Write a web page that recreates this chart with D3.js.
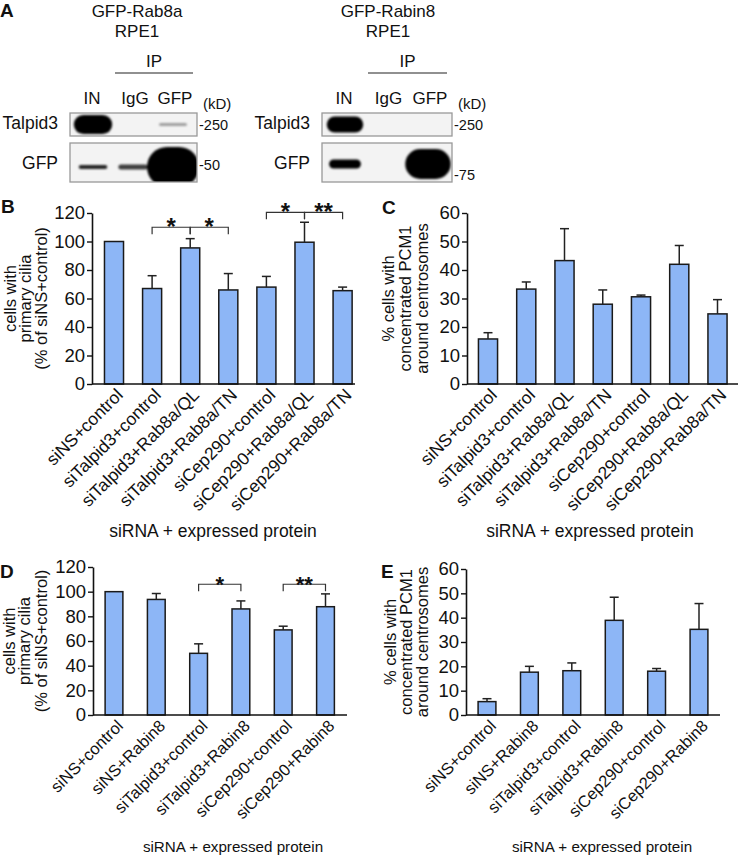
<!DOCTYPE html>
<html>
<head>
<meta charset="utf-8">
<script src="https://cdn.jsdelivr.net/npm/d3@7"></script>
<style>
body { margin: 0; background: #fff; }
svg { display: block; font-family: "Liberation Sans", Arial, Helvetica, sans-serif; }
</style>
</head>
<body>
<svg id="fig" width="740" height="857"></svg>
<script>
// ---- data ----
var lanes = ["IN", "IgG", "GFP"];

// blot signal (band thickness units) and darkness per lane
var rab8aTalpid3Signal = [9.5, 0, 1.5],
    rab8aTalpid3Dark = [1, 0, 0.35],
    rab8aGfpSignal = [2, 2.5, 20],
    rab8aGfpDark = [0.85, 0.75, 1];
var rabin8Talpid3Signal = [8, 0, 0],
    rabin8Talpid3Dark = [1, 0, 0],
    rabin8GfpSignal = [4.5, 0, 15],
    rabin8GfpDark = [1, 0, 1];

var rab8aCats = ["siNS+control", "siTalpid3+control", "siTalpid3+Rab8a/QL", "siTalpid3+Rab8a/TN",
                 "siCep290+control", "siCep290+Rab8a/QL", "siCep290+Rab8a/TN"];
var ciliaRab8aMean = [100, 67, 95.5, 66, 68, 99.5, 65.5],
    ciliaRab8aErr = [0, 9, 6.5, 11.5, 7.5, 14, 2.5];
var pcm1Rab8aMean = [15.8, 33.3, 43.3, 28, 30.6, 42, 24.6],
    pcm1Rab8aErr = [2.2, 2.5, 11.2, 5, 0.6, 6.6, 5];

var rabin8Cats = ["siNS+control", "siNS+Rabin8", "siTalpid3+control", "siTalpid3+Rabin8",
                  "siCep290+control", "siCep290+Rabin8"];
var ciliaRabin8Mean = [100, 93.7, 50, 86, 69, 87.8],
    ciliaRabin8Err = [0, 4.8, 7.7, 6.5, 3, 10.4];
var pcm1Rabin8Mean = [5.5, 17.6, 18.2, 38.9, 18, 35.2],
    pcm1Rabin8Err = [1.2, 2.4, 3.2, 9.5, 1.1, 10.6];

var ciliaRab8aSig = [
    { a: 1, b: 2, level: 110, label: "*" },
    { a: 2, b: 3, level: 110, label: "*" },
    { a: 4, b: 5, level: 120.5, label: "*" },
    { a: 5, b: 6, level: 120.5, label: "**" }];
var ciliaRabin8Sig = [
    { a: 2, b: 3, level: 106, label: "*" },
    { a: 4, b: 5, level: 106, label: "**" }];

var ciliaTitle = ["cells with", "primary cilia", "(% of siNS+control)"],
    pcm1Title = ["% cells with", "concentrated PCM1", "around centrosomes"];

// ---- drawing ----
var svg = d3.select("#fig");
var barFill = "#8db6f6",
    fontStack = '"Liberation Sans", Arial, Helvetica, sans-serif';

var defs = svg.append("defs");
defs.append("filter").attr("id", "soft")
    .attr("x", "-20%").attr("y", "-50%").attr("width", "140%").attr("height", "200%")
    .append("feGaussianBlur").attr("stdDeviation", 1.3);

function label(g, txt, x, y, size, anchor, weight) {
    return g.append("text")
        .attr("x", x)
        .attr("y", y)
        .attr("font-size", size)
        .attr("text-anchor", anchor || "start")
        .attr("font-weight", weight || "normal")
        .attr("fill", "#111")
        .text(txt);
}

function drawBlot(cfg) {
    let g = svg.append("g");
    let lx = d3.scalePoint().domain(lanes).range(cfg.laneRange);
    let bandH = d3.scaleLinear().domain([0, 20]).range([0, 40]);
    let bandW = d3.scaleLinear().domain([0, 20]).range([26, 52]);

    label(g, cfg.title, cfg.titleX, 17, 17, "middle");
    label(g, "RPE1", cfg.titleX, 37, 17, "middle");
    label(g, "IP", (cfg.ipLine[0] + cfg.ipLine[1]) / 2, 67, 17, "middle");
    g.append("line")
        .attr("x1", cfg.ipLine[0]).attr("x2", cfg.ipLine[1])
        .attr("y1", 73).attr("y2", 73)
        .attr("stroke", "#222").attr("stroke-width", 1.2);

    lanes.forEach(function(l) {
        label(g, l, lx(l) + (l == "IN" ? -1 : 2), 104, 17, "middle");
    });
    label(g, "(kD)", cfg.box[1] + 6, 109, 15);

    cfg.rows.forEach(function(row, i) {
        let clipId = cfg.id + "clip" + i;
        defs.append("clipPath").attr("id", clipId).append("rect")
            .attr("x", cfg.box[0]).attr("y", row.top)
            .attr("width", cfg.box[1] - cfg.box[0]).attr("height", row.bottom - row.top);

        g.append("rect")
            .attr("x", cfg.box[0]).attr("y", row.top)
            .attr("width", cfg.box[1] - cfg.box[0]).attr("height", row.bottom - row.top)
            .attr("fill", "#f3f3f3");

        let bands = lanes.map(function(l, j) {
            return { lane: l, s: row.signal[j], d: row.dark[j] };
        }).filter(function(b) { return b.s > 0; });

        g.append("g").attr("clip-path", "url(#" + clipId + ")")
            .append("g").attr("filter", "url(#soft)")
            .selectAll("rect")
            .data(bands)
            .enter().append("rect")
            .attr("x", function(b) { return lx(b.lane) - bandW(b.s) / 2; })
            .attr("y", function(b) { return row.center - bandH(b.s) / 2; })
            .attr("width", function(b) { return bandW(b.s); })
            .attr("height", function(b) { return bandH(b.s); })
            .attr("rx", function(b) { return Math.min(bandH(b.s), bandW(b.s)) / 2; })
            .attr("fill", "#000")
            .attr("fill-opacity", function(b) { return b.d; });

        g.append("rect")
            .attr("x", cfg.box[0]).attr("y", row.top)
            .attr("width", cfg.box[1] - cfg.box[0]).attr("height", row.bottom - row.top)
            .attr("fill", "none")
            .attr("stroke", "#999").attr("stroke-width", 1.3);

        label(g, row.name, cfg.box[0] - 12, row.labelY, 17.5, "end");
        label(g, "-" + row.marker, cfg.box[1] + 2, row.markerY, 14.5);
    });
}

drawBlot({
    id: "rab8a",
    title: "GFP-Rab8a",
    titleX: 137,
    ipLine: [115, 193],
    laneRange: [93, 173],
    box: [70, 197],
    rows: [
        { name: "Talpid3", top: 113, bottom: 136, center: 124.5, labelY: 129,
          signal: rab8aTalpid3Signal, dark: rab8aTalpid3Dark, marker: "250", markerY: 130 },
        { name: "GFP", top: 143, bottom: 182, center: 167, labelY: 169,
          signal: rab8aGfpSignal, dark: rab8aGfpDark, marker: "50", markerY: 170 }
    ]
});

drawBlot({
    id: "rabin8",
    title: "GFP-Rabin8",
    titleX: 388,
    ipLine: [368, 447],
    laneRange: [345, 428],
    box: [322, 452],
    rows: [
        { name: "Talpid3", top: 113, bottom: 136, center: 124.5, labelY: 129,
          signal: rabin8Talpid3Signal, dark: rabin8Talpid3Dark, marker: "250", markerY: 130 },
        { name: "GFP", top: 143, bottom: 182, center: 164, labelY: 169,
          signal: rabin8GfpSignal, dark: rabin8GfpDark, marker: "75", markerY: 180 }
    ]
});

label(svg, "A", 0, 17, 19, "start", "bold");

function drawBars(cfg) {
    let g = svg.append("g");
    let n = cfg.cats.length;
    let x = d3.scaleBand().domain(cfg.cats)
        .range([cfg.x0 - cfg.step / 2, cfg.x0 - cfg.step / 2 + cfg.step * n])
        .paddingInner(cfg.pad).paddingOuter(cfg.pad / 2);
    let y = d3.scaleLinear().domain([0, cfg.max]).range([cfg.y0, cfg.y1]);
    let cx = function(c) { return x(c) + x.bandwidth() / 2; };

    let ya = g.append("g")
        .attr("transform", "translate(" + cfg.axisX + ",0)")
        .call(d3.axisLeft(y).tickValues(d3.range(0, cfg.max + 1, cfg.tick))
            .tickSize(5).tickSizeOuter(0).tickPadding(2));
    ya.attr("font-family", fontStack).attr("font-size", 18.5);
    ya.select(".domain").attr("stroke", "#111").attr("stroke-width", 1.6);
    ya.selectAll(".tick line").attr("stroke", "#111").attr("stroke-width", 1.4);
    ya.selectAll(".tick text").attr("fill", "#111");

    g.selectAll(".bar")
        .data(cfg.cats)
        .enter().append("rect")
        .attr("class", "bar")
        .attr("x", function(c) { return x(c); })
        .attr("y", function(c, i) { return y(cfg.mean[i]); })
        .attr("width", x.bandwidth())
        .attr("height", function(c, i) { return cfg.y0 - y(cfg.mean[i]); })
        .attr("fill", barFill)
        .attr("stroke", "#1a1a1a")
        .attr("stroke-width", 1.5);

    let eb = g.selectAll(".err")
        .data(cfg.cats.filter(function(c, i) { return cfg.err[i] > 0; }))
        .enter().append("g").attr("class", "err");
    eb.append("line")
        .attr("x1", cx).attr("x2", cx)
        .attr("y1", function(c) { return y(cfg.mean[cfg.cats.indexOf(c)]); })
        .attr("y2", function(c) { let i = cfg.cats.indexOf(c); return y(cfg.mean[i] + cfg.err[i]); })
        .attr("stroke", "#222").attr("stroke-width", 1.5);
    eb.append("line")
        .attr("x1", function(c) { return cx(c) - 4.5; })
        .attr("x2", function(c) { return cx(c) + 4.5; })
        .attr("y1", function(c) { let i = cfg.cats.indexOf(c); return y(cfg.mean[i] + cfg.err[i]); })
        .attr("y2", function(c) { let i = cfg.cats.indexOf(c); return y(cfg.mean[i] + cfg.err[i]); })
        .attr("stroke", "#222").attr("stroke-width", 1.5);

    // x axis line
    g.append("line")
        .attr("x1", cfg.axisX).attr("x2", cfg.xEnd)
        .attr("y1", cfg.y0).attr("y2", cfg.y0)
        .attr("stroke", "#111").attr("stroke-width", 1.6);

    g.selectAll(".xlab")
        .data(cfg.cats)
        .enter().append("text")
        .attr("class", "xlab")
        .attr("transform", function(c) { return "translate(" + (cx(c) + 10) + "," + (cfg.y0 + 12) + ") rotate(-45)"; })
        .attr("text-anchor", "end")
        .attr("font-size", cfg.xFont)
        .attr("fill", "#111")
        .text(function(c) { return c; });

    label(g, "siRNA + expressed protein", cfg.xTitleX, cfg.xTitleY, cfg.xTitleFont, "middle");

    let midY = (cfg.y0 + cfg.y1) / 2;
    cfg.yTitle.forEach(function(t, i) {
        g.append("text")
            .attr("transform", "translate(" + cfg.yTitleX[i] + "," + midY + ") rotate(-90)")
            .attr("text-anchor", "middle")
            .attr("font-size", 16.5)
            .attr("fill", "#111")
            .text(t);
    });

    label(g, cfg.letter, cfg.letterX, cfg.letterY, 19, "start", "bold");

    (cfg.sig || []).forEach(function(s) {
        let xa = cx(cfg.cats[s.a]), xb = cx(cfg.cats[s.b]), yl = y(s.level);
        g.append("path")
            .attr("d", "M" + xa + "," + (yl + 7) + "V" + yl + "H" + xb + "V" + (yl + 7))
            .attr("fill", "none").attr("stroke", "#333").attr("stroke-width", 1.2);
        g.append("text")
            .attr("x", (xa + xb) / 2)
            .attr("y", yl + 8)
            .attr("text-anchor", "middle")
            .attr("font-size", cfg.starFont)
            .attr("font-weight", "bold")
            .attr("fill", "#111")
            .text(s.label);
    });
}

drawBars({
    letter: "B", letterX: 1, letterY: 213,
    cats: rab8aCats, mean: ciliaRab8aMean, err: ciliaRab8aErr, sig: ciliaRab8aSig,
    max: 120, tick: 20,
    axisX: 92, xEnd: 355, x0: 114, step: 38.1, pad: 0.5,
    y0: 384, y1: 213,
    xFont: 17.5, xTitleX: 213, xTitleY: 537, xTitleFont: 17.5,
    yTitle: ciliaTitle, yTitleX: [16, 31, 47], starFont: 24
});

drawBars({
    letter: "C", letterX: 382, letterY: 214,
    cats: rab8aCats, mean: pcm1Rab8aMean, err: pcm1Rab8aErr,
    max: 60, tick: 10,
    axisX: 467, xEnd: 738, x0: 488, step: 38.25, pad: 0.5,
    y0: 384, y1: 213,
    xFont: 17.5, xTitleX: 590, xTitleY: 537, xTitleFont: 17.5,
    yTitle: pcm1Title, yTitleX: [394, 411, 428]
});

drawBars({
    letter: "D", letterX: 0, letterY: 578,
    cats: rabin8Cats, mean: ciliaRabin8Mean, err: ciliaRabin8Err, sig: ciliaRabin8Sig,
    max: 120, tick: 20,
    axisX: 93, xEnd: 347, x0: 114, step: 42.3, pad: 0.58,
    y0: 715, y1: 567,
    xFont: 16.5, xTitleX: 233, xTitleY: 852, xTitleFont: 15.2,
    yTitle: ciliaTitle, yTitleX: [15, 30, 47], starFont: 22
});

drawBars({
    letter: "E", letterX: 381, letterY: 578,
    cats: rabin8Cats, mean: pcm1Rabin8Mean, err: pcm1Rabin8Err,
    max: 60, tick: 10,
    axisX: 466, xEnd: 720, x0: 487, step: 42.4, pad: 0.58,
    y0: 715, y1: 569,
    xFont: 16.5, xTitleX: 602, xTitleY: 852, xTitleFont: 15.2,
    yTitle: pcm1Title, yTitleX: [396, 412, 428]
});
</script>
</body>
</html>
